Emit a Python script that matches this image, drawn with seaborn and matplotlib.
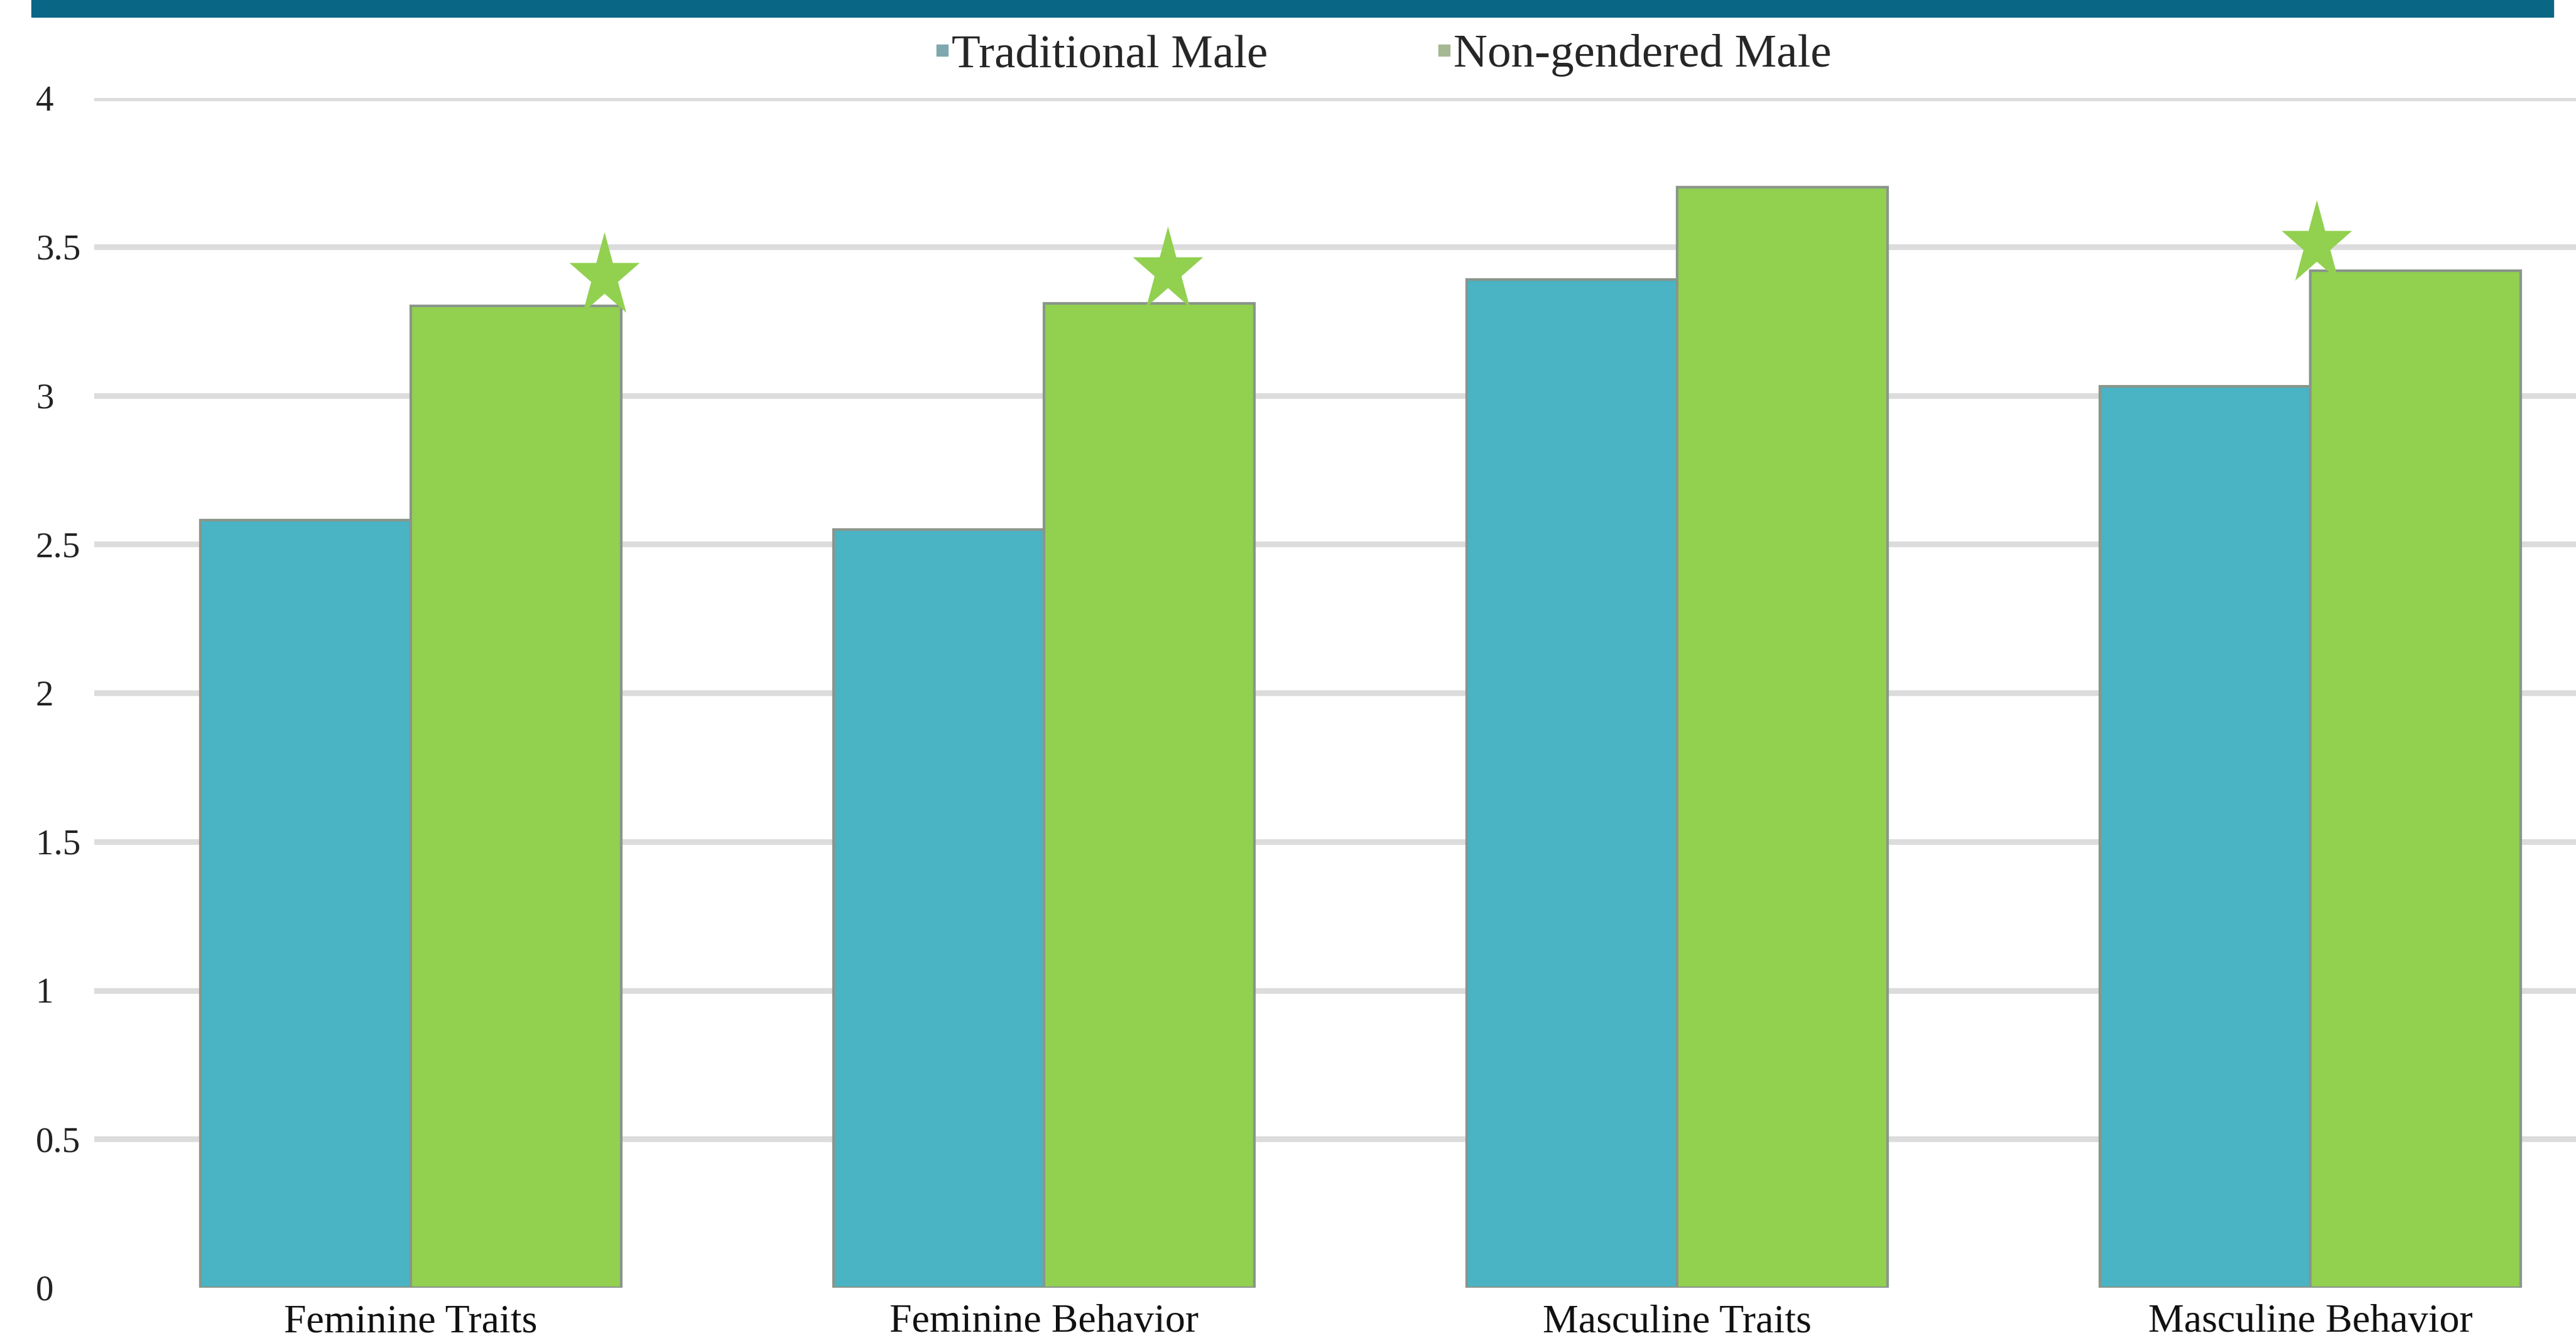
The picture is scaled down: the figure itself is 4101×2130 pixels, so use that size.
import numpy as np
import pandas as pd
import matplotlib
matplotlib.use("Agg")
import matplotlib.pyplot as plt
import seaborn as sns
from matplotlib.lines import Line2D
from matplotlib.patches import Rectangle

# ---------------- data ----------------
categories = ["Feminine Traits", "Feminine Behavior", "Masculine Traits", "Masculine Behavior"]
series_names = ["Traditional Male", "Non-gendered Male"]
traditional = [2.58, 2.55, 3.39, 3.03]
non_gendered = [3.30, 3.31, 3.70, 3.42]
significant = [True, True, False, True]
y_ticks = [0, 0.5, 1, 1.5, 2, 2.5, 3, 3.5, 4]
y_tick_labels = ["0", "0.5", "1", "1.5", "2", "2.5", "3", "3.5", "4"]

# ---------------- style ----------------
BLUE = "#4AB3C4"
GREEN = "#92D050"
EDGE = "#8A968A"
GRID = "#DCDCDC"
BAR_TEAL = "#0A6685"
LEG_BLUE = "#7FA8AE"
LEG_GREEN = "#A6B893"
star_frac = [0.92, 0.59, 0.5, 0.03]   # horizontal placement along green bar
star_dy = [0.10, 0.11, 0.10, 0.087]    # vertical offset above green bar

W, H, DPI = 4101, 2130, 100

df = pd.DataFrame({
    "Category": categories * 2,
    "Group": [series_names[0]] * len(categories) + [series_names[1]] * len(categories),
    "Score": traditional + non_gendered,
})

sns.set_theme(style="white")
plt.rcParams["font.family"] = ["Liberation Serif", "DejaVu Serif"]

fig = plt.figure(figsize=(W / DPI, H / DPI), dpi=DPI)
ax_left, ax_right = 150, 4182
ax_top, ax_bottom = 156, 2050
ax = fig.add_axes([ax_left / W, (H - ax_bottom) / H, (ax_right - ax_left) / W, (ax_bottom - ax_top) / H])

sns.barplot(data=df, x="Category", y="Score", hue="Group", order=categories,
            hue_order=series_names, palette=[BLUE, GREEN], width=0.664, gap=0,
            saturation=1, edgecolor=EDGE, linewidth=3, errorbar=None,
            legend=False, ax=ax, zorder=3)

ax.set_xlim(-0.5, 3.5)
ax.set_ylim(0, 4)
ax.set_yticks(y_ticks)
ax.set_yticklabels(y_tick_labels)
ax.set_xlabel("")
ax.set_ylabel("")
for s in ax.spines.values():
    s.set_visible(False)
ax.yaxis.grid(True, color=GRID, linewidth=6.5, zorder=0)
ax.xaxis.grid(False)
ax.set_axisbelow(True)
ax.get_ygridlines()[0].set_visible(False)

ax.tick_params(axis="y", length=0, pad=67, labelsize=41, labelcolor="#222222")
for lab in ax.get_yticklabels():
    lab.set_horizontalalignment("left")
ax.tick_params(axis="x", length=0, pad=19, labelsize=46, labelcolor="#111111")

# significance stars
angles = np.deg2rad(90 + np.arange(10) * 36)
radii = np.where(np.arange(10) % 2 == 0, 1.0, 0.382)
star_verts = np.column_stack([0.83 * radii * np.cos(angles), radii * np.sin(angles)])
green_bars = ax.containers[1]
for i, flag in enumerate(significant):
    if not flag:
        continue
    bar = green_bars[i]
    sx = bar.get_x() + bar.get_width() * star_frac[i]
    sy = bar.get_height() + star_dy[i]
    ax.plot([sx], [sy], marker=star_verts, markersize=102, color=GREEN,
            markeredgewidth=0, linestyle="none", zorder=5, clip_on=False)

# header band
fig.patches.append(Rectangle((50 / W, (H - 27) / H), (4065 - 50) / W, 27 / H,
                             transform=fig.transFigure, color=BAR_TEAL, zorder=10))

# legend
handles = [Line2D([], [], marker="s", linestyle="none", color=LEG_BLUE, markersize=13),
           Line2D([], [], marker="s", linestyle="none", color=LEG_GREEN, markersize=13)]
fig.legend(handles, series_names, loc="center", bbox_to_anchor=(0.537, 1 - 88 / H),
           ncol=2, frameon=False, fontsize=54, handlelength=0.3, handletextpad=0.05,
           columnspacing=3.6)

fig.savefig("out.png", dpi=DPI)
